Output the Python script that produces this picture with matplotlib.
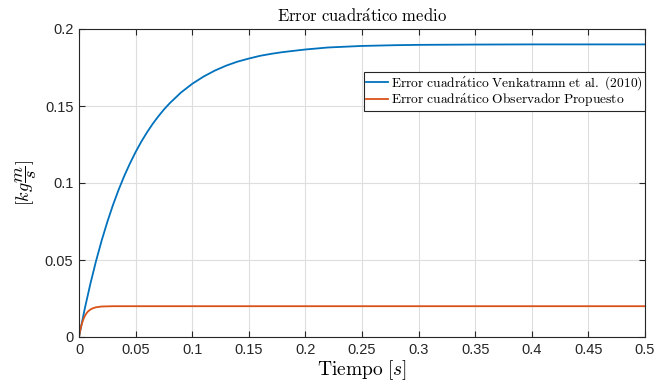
import matplotlib
matplotlib.use("Agg")
import matplotlib.pyplot as plt
import numpy as np

plt.rcParams['mathtext.fontset'] = 'cm'
plt.rcParams['font.family'] = ['Liberation Sans', 'DejaVu Sans']

# Data
t_venk = [0, 0.005, 0.01, 0.015, 0.02, 0.025, 0.03, 0.035, 0.04, 0.045, 0.05, 0.055, 0.06,
          0.065, 0.07, 0.075, 0.08, 0.09, 0.10, 0.11, 0.12, 0.13, 0.14, 0.15, 0.16,
          0.17, 0.18, 0.20, 0.22, 0.25, 0.28, 0.30, 0.35, 0.40, 0.45, 0.50]
e_venk = [0, 0.0181, 0.0344, 0.0492, 0.0626, 0.0747, 0.0857, 0.0956, 0.1046, 0.1127,
          0.1201, 0.1268, 0.1328, 0.1383, 0.1432, 0.1477, 0.1517, 0.1587, 0.1644,
          0.1691, 0.1730, 0.1762, 0.1788, 0.1808, 0.1826, 0.1839, 0.1850, 0.1867,
          0.1880, 0.1890, 0.1895, 0.1897, 0.1899, 0.1900, 0.1900, 0.1900]

t_obs = [0, 0.001, 0.002, 0.003, 0.004, 0.005, 0.006, 0.007, 0.008, 0.010, 0.012,
         0.015, 0.020, 0.025, 0.030, 0.050, 0.50]
e_obs = [0, 0.0040, 0.0072, 0.0097, 0.0118, 0.0134, 0.0147, 0.0158, 0.0166, 0.0178,
         0.0186, 0.0193, 0.0198, 0.0199, 0.0200, 0.0200, 0.0200]

xticks = [0, 0.05, 0.1, 0.15, 0.2, 0.25, 0.3, 0.35, 0.4, 0.45, 0.5]
xticklabels = ['0', '0.05', '0.1', '0.15', '0.2', '0.25', '0.3', '0.35', '0.4', '0.45', '0.5']
yticks = [0, 0.05, 0.1, 0.15, 0.2]
yticklabels = ['0', '0.05', '0.1', '0.15', '0.2']

label_venk = r'$\mathrm{Error\ cuadr\acute{a}tico\ Venkatramn\ et\ al.\ (2010)}$'
label_obs = r'$\mathrm{Error\ cuadr\acute{a}tico\ Observador\ Propuesto}$'

fig = plt.figure(figsize=(6.67, 3.81), dpi=100)
ax = fig.add_axes([79/667, 44/381, (645-79)/667, (337-29)/381])

ax.plot(t_venk, e_venk, color='#0072BD', lw=1.3, label=label_venk)
ax.plot(t_obs, e_obs, color='#D95319', lw=1.3, label=label_obs)

ax.set_xlim(0, 0.5)
ax.set_ylim(0, 0.2)
ax.set_xticks(xticks)
ax.set_xticklabels(xticklabels)
ax.set_yticks(yticks)
ax.set_yticklabels(yticklabels)

dark = '#262626'
ax.tick_params(direction='in', top=True, right=True, length=4, width=0.8,
               colors=dark, labelsize=10.5, pad=4)
for tl in ax.get_xticklabels() + ax.get_yticklabels():
    tl.set_color(dark)
for s in ax.spines.values():
    s.set_color(dark)
    s.set_linewidth(0.8)

ax.grid(True, color='#dedede', lw=0.8)
ax.set_axisbelow(True)

ax.set_title(r'$\mathrm{Error\ cuadr\acute{a}tico\ medio}$', fontsize=12, color='black', pad=5)
ax.set_xlabel(r'$\mathrm{Tiempo}\ [s]$', fontsize=14, labelpad=1)
ax.set_ylabel(r'$[kg\dfrac{m}{s}]$', fontsize=13, labelpad=4)

leg = ax.legend(loc='upper right', bbox_to_anchor=(1.0, (337-72)/308), borderaxespad=0,
                fontsize=9.7, frameon=True, fancybox=False, handlelength=1.6,
                handletextpad=0.25, borderpad=0.15, labelspacing=0.0)
leg.get_frame().set_edgecolor('#262626')
leg.get_frame().set_linewidth(0.8)
leg.get_frame().set_alpha(1)

fig.savefig('out.png', dpi=100)
